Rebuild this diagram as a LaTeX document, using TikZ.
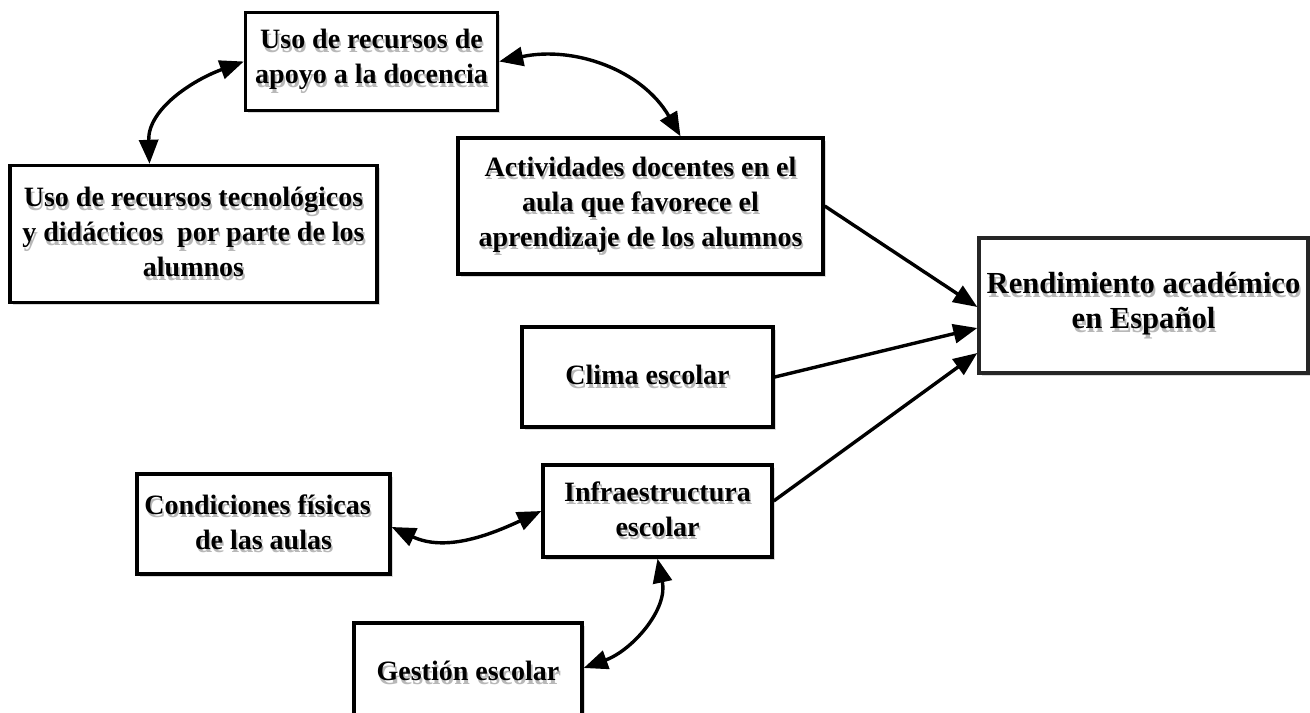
\documentclass[tikz,border=0pt]{standalone}
\usepackage{fontspec}
\setmainfont{Liberation Serif}
\usepackage{tikz}
\usetikzlibrary{arrows.meta}
\usetikzlibrary{shadows}
\newcommand{\shd}[1]{\rlap{\kern0.8pt\raisebox{-1.7pt}{\color{black!28}#1}}#1}

\begin{document}
\begin{tikzpicture}[x=0.5pt, y=-0.5pt,
	box/.style={draw=black, line width=1.7pt, fill=white, align=center, inner sep=2pt,
		font=\fontsize{14}{17.5}\selectfont\bfseries,
		drop shadow={shadow xshift=1.3pt, shadow yshift=-1.3pt, opacity=1, fill=black!15}},
	pfeil/.style={-{Triangle[length=12pt, width=9.5pt]}, line width=1.7pt},
	doppel/.style={{Triangle[length=12pt, width=9.5pt]}-{Triangle[length=12pt, width=9.5pt]}, line width=1.7pt}]
	\useasboundingbox (0,0) rectangle (1310,712);
	
	% Level 1 & 2
	\node [box, minimum width=126pt, minimum height=49pt] at (371.5,61.5) (1apoyo) {\shd{Uso de recursos de}\\\shd{apoyo a la docencia}};
	\node [box, minimum width=183.5pt, minimum height=68.5pt] at (193.5,234) (2tecno) {\shd{Uso de recursos tecnológicos}\\\shd{y didácticos\ \ por parte de los}\\\shd{alumnos}};
	\node [box, minimum width=182.5pt, minimum height=68pt] at (640.5,206) (2activ) {\shd{Actividades docentes en el}\\\shd{aula que favorece el}\\\shd{aprendizaje de los alumnos}};
	
	% Level 3
	\node [box, draw=black!85, minimum width=164.5pt, minimum height=67.5pt, font=\fontsize{15.3}{17.5}\selectfont\bfseries] at (1143.5,305.5) (3rend) {\shd{Rendimiento académico}\\\shd{en Español}};
	\node [box, minimum width=125.5pt, minimum height=50pt] at (647.5,377) (3clima) {\shd{Clima escolar}};
	
	% Level 4 & 5
	\node [box, minimum width=126.5pt, minimum height=50pt] at (263.5,524) (4cond) {\shd{Condiciones físicas}\hspace*{6pt}\\\shd{de las aulas}};
	\node [box, minimum width=114.5pt, minimum height=46pt] at (657.5,511) (4infra) {\shd{Infraestructura}\\\shd{escolar}};
	\node [box, minimum width=114pt, minimum height=50pt] at (468,673) (5gestion) {\shd{Gestión escolar}};
	
	% Connections
	\draw [doppel] ([xshift=-22pt]2tecno.north) to[out=92, in=200] (1apoyo.west);
	\draw [doppel] (1apoyo.east) to[out=12, in=120] ([xshift=20pt]2activ.north);
	\draw [pfeil] (2activ.east) -- ([yshift=-0.75pt]3rend.west);
	\draw [pfeil] (3clima.east) -- ([yshift=-11.25pt]3rend.west);
	\draw [pfeil] ([yshift=5pt]4infra.east) -- ([yshift=-23.75pt]3rend.west);
	\draw [doppel] ([yshift=-1.5pt]4cond.east) to[out=-25, in=205] (4infra.west);
	\draw [doppel] (4infra.south) to[out=-78, in=20] ([yshift=2.5pt]5gestion.east);
	
\end{tikzpicture}
\end{document}
